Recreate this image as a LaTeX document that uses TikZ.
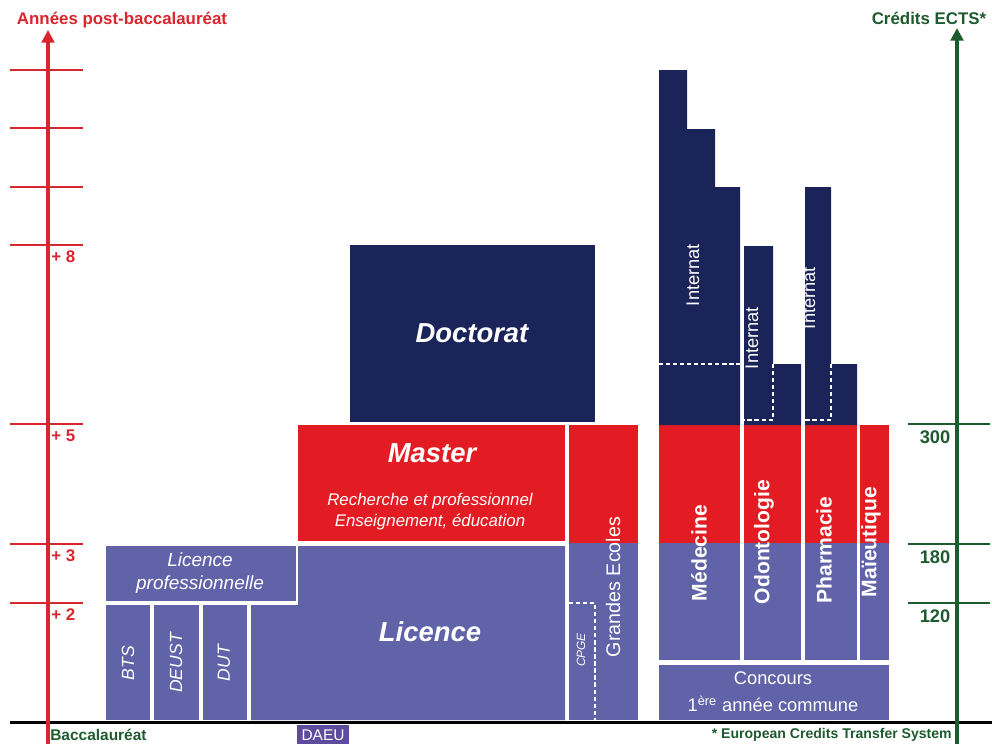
\documentclass[tikz,border=0pt]{standalone}
\usepackage{fontspec}
\setmainfont{Liberation Sans}
\usetikzlibrary{arrows.meta}

\definecolor{lic}{HTML}{6163A9}
\definecolor{mas}{HTML}{E31B23}
\definecolor{doc}{HTML}{1B2459}
\definecolor{daeu}{HTML}{5D4C9C}
\definecolor{axred}{HTML}{D7262D}
\definecolor{axgreen}{HTML}{1D5A2E}

\begin{document}
\begin{tikzpicture}[x=0.025cm,y=-0.025cm,
  every node/.style={inner sep=0pt},
  tick/.style={line width=1.4pt},
  pointille/.style={white,line width=0.9pt,dash pattern=on 3pt off 2pt},
  gros/.style={white,font=\bfseries\itshape\fontsize{19.5}{23}\selectfont},
  sous/.style={white,align=center,font=\itshape\fontsize{12}{15}\selectfont},
  filiere/.style={white,rotate=90,font=\bfseries\fontsize{15}{18}\selectfont},
  court/.style={white,rotate=90,font=\itshape\fontsize{12.5}{15}\selectfont},
  internat/.style={white,rotate=90,font=\fontsize{13}{15}\selectfont}]
\useasboundingbox (0,0) rectangle (992,744);

% axes
\coordinate (rbas) at (48,744);
\coordinate (rhaut) at (48,30);
\coordinate (gbas) at (957,744);
\coordinate (ghaut) at (957,28);
\draw[line width=2.6pt] (10,722.5) -- (992,722.5);
\draw[axred,line width=2.2pt,-{Triangle[length=9pt,width=9pt]}] (rbas) -- (rhaut);
\draw[axgreen,line width=2.8pt,-{Triangle[length=9pt,width=9pt]}] (gbas) -- (ghaut);
\node[axred,font=\bfseries\fontsize{12}{14}\selectfont] (annees) at (122,20) {Années post-baccalauréat};
\node[axgreen,font=\bfseries\fontsize{12}{14}\selectfont] (ects) at (929,18) {Crédits ECTS*};
\foreach \y in {70,128,187,245,424,544,603}
  \draw[axred,tick] (10,\y) -- (83,\y);
\foreach \y/\t in {245/+ 8,424/+ 5,544/+ 3,603/+ 2}
  \node[axred,anchor=west,font=\bfseries\fontsize{12}{14}\selectfont] (an\y) at (51,\y+12) {\t};
\foreach \y/\t in {424/300,544/180,603/120}{
  \draw[axgreen,tick] (908,\y) -- (990,\y);
  \node[axgreen,font=\bfseries\fontsize{13}{15}\selectfont] (ec\t) at (935,\y+13) {\t};}

% licence
\fill[lic] (106,546) rectangle (296,601);
\fill[lic] (106,605) rectangle (150,720);
\fill[lic] (154,605) rectangle (199,720);
\fill[lic] (203,605) rectangle (247,720);
\fill[lic] (298,546) -- (565,546) -- (565,720) -- (251,720) -- (251,605) -- (298,605) -- cycle;
\fill[daeu] (297,725) rectangle (349,744);
% master, doctorat
\fill[mas] (298,425) rectangle (565,541);
\fill[doc] (350,245) rectangle (595,422);
% grandes ecoles
\fill[mas] (569,425) rectangle (638,543);
\fill[lic] (569,543) rectangle (638,720);
\draw[pointille] (569,603) -- (595,603) -- (595,720);
% sante
\foreach \a/\b in {659/740,744/801,805/857,860/889}{
  \fill[mas] (\a,425) rectangle (\b,543);
  \fill[lic] (\a,543) rectangle (\b,660);}
\fill[lic] (659,665) rectangle (889,720);
\fill[doc] (659,70) -- (687,70) -- (687,129) -- (715,129) -- (715,187) -- (740,187) -- (740,425) -- (659,425) -- cycle;
\fill[doc] (744,246) -- (773,246) -- (773,364) -- (801,364) -- (801,425) -- (744,425) -- cycle;
\fill[doc] (805,187) -- (831,187) -- (831,364) -- (857,364) -- (857,425) -- (805,425) -- cycle;
\draw[pointille] (659,364) -- (740,364);
\draw[pointille] (773,364) -- (773,420) -- (744,420);
\draw[pointille] (831,364) -- (831,420) -- (805,420);

% textes
\node[gros] (doctorat) at (472,333) {Doctorat};
\node[gros] (master) at (432,453) {Master};
\node[sous] (mastersous) at (430,512) {Recherche et professionnel\\Enseignement, éducation};
\node[gros] (licence) at (430,632) {Licence};
\node[sous,font=\itshape\fontsize{13.5}{16}\selectfont] (licpro) at (200,573) {Licence\\professionnelle};
\node[court] (bts) at (128,663) {BTS};
\node[court] (deust) at (176,663) {DEUST};
\node[court] (dut) at (224,663) {DUT};
\node[court,font=\itshape\fontsize{8.5}{10}\selectfont] (cpge) at (581,650) {CPGE};
\node[white,rotate=90,font=\fontsize{14}{16}\selectfont] (ge) at (613,587) {Grandes Ecoles};
\node[filiere] (medecine) at (699,553) {Médecine};
\node[filiere] (odonto) at (764,542) {Odontologie};
\node[filiere] (pharma) at (824,550) {Pharmacie};
\node[filiere] (maieut) at (871,542) {Maïeutique};
\node[internat] (intmed) at (693,275) {Internat};
\node[internat] (intodo) at (752,338) {Internat};
\node[internat] (intpha) at (809,298) {Internat};
\node[white,align=center,font=\fontsize{13}{19}\selectfont] (concours) at (773,692) {Concours\\1\textsuperscript{ère} année commune};
\node[axgreen,anchor=west,font=\bfseries\fontsize{11}{13}\selectfont] (bac) at (50,735) {Baccalauréat};
\node[white,font=\fontsize{11}{13}\selectfont] (daeutxt) at (323,735) {DAEU};
\node[axgreen,anchor=east,font=\bfseries\fontsize{10}{12}\selectfont] (ectsnote) at (952,735) {* European Credits Transfer System};
\end{tikzpicture}
\end{document}
